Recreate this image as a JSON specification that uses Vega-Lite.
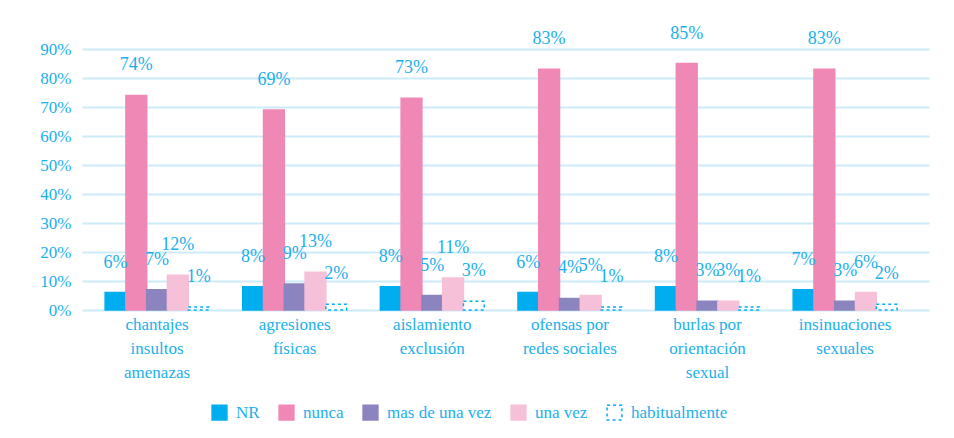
{
  "$schema": "https://vega.github.io/schema/vega-lite/v6.json",
  "width": 847,
  "height": 261,
  "padding": {"left": 39, "top": 24, "right": 10, "bottom": 5},
  "background": "white",
  "data": {
    "values": [
      {"cat": "chantajes insultos amenazas", "serie": "NR", "v": 6},
      {"cat": "chantajes insultos amenazas", "serie": "nunca", "v": 74},
      {"cat": "chantajes insultos amenazas", "serie": "mas de una vez", "v": 7},
      {"cat": "chantajes insultos amenazas", "serie": "una vez", "v": 12},
      {"cat": "chantajes insultos amenazas", "serie": "habitualmente", "v": 1},
      {"cat": "agresiones físicas", "serie": "NR", "v": 8},
      {"cat": "agresiones físicas", "serie": "nunca", "v": 69},
      {"cat": "agresiones físicas", "serie": "mas de una vez", "v": 9},
      {"cat": "agresiones físicas", "serie": "una vez", "v": 13},
      {"cat": "agresiones físicas", "serie": "habitualmente", "v": 2},
      {"cat": "aislamiento exclusión", "serie": "NR", "v": 8},
      {"cat": "aislamiento exclusión", "serie": "nunca", "v": 73},
      {"cat": "aislamiento exclusión", "serie": "mas de una vez", "v": 5},
      {"cat": "aislamiento exclusión", "serie": "una vez", "v": 11},
      {"cat": "aislamiento exclusión", "serie": "habitualmente", "v": 3},
      {"cat": "ofensas por redes sociales", "serie": "NR", "v": 6},
      {"cat": "ofensas por redes sociales", "serie": "nunca", "v": 83},
      {"cat": "ofensas por redes sociales", "serie": "mas de una vez", "v": 4},
      {"cat": "ofensas por redes sociales", "serie": "una vez", "v": 5},
      {"cat": "ofensas por redes sociales", "serie": "habitualmente", "v": 1},
      {"cat": "burlas por orientación sexual", "serie": "NR", "v": 8},
      {"cat": "burlas por orientación sexual", "serie": "nunca", "v": 85},
      {"cat": "burlas por orientación sexual", "serie": "mas de una vez", "v": 3},
      {"cat": "burlas por orientación sexual", "serie": "una vez", "v": 3},
      {"cat": "burlas por orientación sexual", "serie": "habitualmente", "v": 1},
      {"cat": "insinuaciones sexuales", "serie": "NR", "v": 7},
      {"cat": "insinuaciones sexuales", "serie": "nunca", "v": 83},
      {"cat": "insinuaciones sexuales", "serie": "mas de una vez", "v": 3},
      {"cat": "insinuaciones sexuales", "serie": "una vez", "v": 6},
      {"cat": "insinuaciones sexuales", "serie": "habitualmente", "v": 2}
    ]
  },
  "encoding": {
    "x": {
      "field": "cat", "type": "nominal", "sort": null, "title": null,
      "scale": {"paddingInner": 0.245, "paddingOuter": 0.2, "align": 0.42},
      "axis": {
        "labelAngle": 0, "domain": false, "ticks": false, "labelPadding": 6,
        "labelExpr": "{'chantajes insultos amenazas': ['chantajes','insultos','amenazas'], 'agresiones físicas': ['agresiones','físicas'], 'aislamiento exclusión': ['aislamiento','exclusión'], 'ofensas por redes sociales': ['ofensas por','redes sociales'], 'burlas por orientación sexual': ['burlas por','orientación','sexual'], 'insinuaciones sexuales': ['insinuaciones','sexuales']}[datum.value]",
        "labelLineHeight": 24, "labelBaseline": "top"
      }
    },
    "xOffset": {
      "field": "serie", "type": "nominal",
      "scale": {"domain": ["NR", "nunca", "mas de una vez", "una vez", "habitualmente"], "paddingInner": 0, "paddingOuter": 0}
    },
    "y": {
      "field": "v", "type": "quantitative", "title": null,
      "scale": {"domain": [0, 90], "nice": false},
      "axis": {"values": [0,10,20,30,40,50,60,70,80,90], "labelExpr": "datum.value + '%'", "domain": false, "ticks": false, "labelPadding": 11, "grid": true}
    }
  },
  "layer": [
    {
      "mark": {"type": "bar", "strokeWidth": 1.5},
      "encoding": {
        "fill": {
          "field": "serie", "type": "nominal", "title": null,
          "scale": {"domain": ["NR", "nunca", "mas de una vez", "una vez", "habitualmente"], "range": ["#00aeef", "#f088b6", "#8b84be", "#f6c0d9", "#ffffff"]},
          "legend": {"orient": "none", "legendX": 129, "legendY": 355, "direction": "horizontal", "symbolType": "square", "symbolSize": 220, "labelFontSize": 17, "labelColor": "#1ab0ec", "labelFont": "Liberation Serif", "columnPadding": 16, "labelOffset": 8, "symbolStrokeWidth": 1.5}
        },
        "stroke": {
          "field": "serie", "type": "nominal", "title": null,
          "scale": {"domain": ["NR", "nunca", "mas de una vez", "una vez", "habitualmente"], "range": ["#00aeef", "#f088b6", "#8b84be", "#f6c0d9", "#00aeef"]}
        },
        "strokeDash": {
          "field": "serie", "type": "nominal", "title": null,
          "scale": {"domain": ["NR", "nunca", "mas de una vez", "una vez", "habitualmente"], "range": [[1, 0], [1, 0], [1, 0], [1, 0], [3, 3]]}
        }
      }
    },
    {
      "mark": {"type": "text", "baseline": "middle", "dy": -30, "fontSize": 18, "font": "Liberation Serif", "color": "#1ab0ec", "text": {"expr": "datum.v + '%'"}},
      "encoding": {}
    }
  ],
  "config": {
    "view": {"stroke": null},
    "text": {"font": "Liberation Serif"},
    "legend": {"labelFont": "Liberation Serif"},
    "axis": {"labelFont": "Liberation Serif", "labelFontSize": 17, "labelColor": "#1ab0ec", "gridColor": "#cdeaf8", "gridWidth": 2, "gridOpacity": 1}
  }
}
